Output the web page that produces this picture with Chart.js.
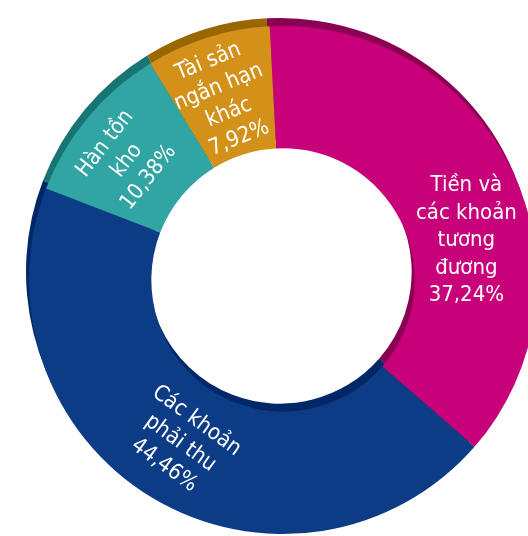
<!DOCTYPE html>
<html>
<head>
<meta charset="utf-8">
<script src="https://cdn.jsdelivr.net/npm/chart.js@4"></script>
<style>
  html, body { margin: 0; padding: 0; background: #fff; overflow: hidden; }
  #wrap { width: 528px; height: 536px; position: relative; }
</style>
</head>
<body>
<div id="wrap"><canvas id="chart" width="528" height="536"></canvas></div>
<script>
// data, clockwise from the top
const categories = [
  ['Tiền và', 'các khoản', 'tương', 'đương'],
  ['Các khoản', 'phải thu'],
  ['Hàn tồn', 'kho'],
  ['Tài sản', 'ngắn hạn', 'khác']
];
const shares = [37.24, 44.46, 10.38, 7.92];

// styling
const faceColors = ['#C8007A', '#0D3C87', '#31A5A3', '#D4911A'];
const rimColors = ['#8A0052', '#002868', '#187573', '#996600'];
const labelTilt = [0, 36, -52, -22];          // degrees
const labelNudge = [[10, 45], [-3, -2], [-8, 4], [-2, 4]];
const labelFont = "22px 'DejaVu Sans Condensed', 'DejaVu Sans', sans-serif";
const lineGap = 27.5;

function pct(v) {
  return v.toFixed(2).replace('.', ',') + '%';
}

// darker copy of the ring, pushed up a bit, for the 3D edge
const rimPlugin = {
  id: 'rim',
  beforeDatasetsDraw(chart) {
    const ctx = chart.ctx;
    const arcs = chart.getDatasetMeta(0).data;
    ctx.save();
    ctx.translate(-3, -8);
    arcs.forEach((a, i) => {
      ctx.beginPath();
      ctx.arc(a.x, a.y, a.outerRadius, a.startAngle, a.endAngle);
      ctx.arc(a.x, a.y, a.innerRadius, a.endAngle, a.startAngle, true);
      ctx.closePath();
      ctx.fillStyle = rimColors[i];
      ctx.fill();
    });
    ctx.restore();
  }
};

const labelPlugin = {
  id: 'sliceLabels',
  afterDatasetsDraw(chart) {
    const ctx = chart.ctx;
    const arcs = chart.getDatasetMeta(0).data;
    ctx.save();
    ctx.font = labelFont;
    ctx.fillStyle = '#ffffff';
    ctx.textAlign = 'center';
    ctx.textBaseline = 'middle';
    arcs.forEach((a, i) => {
      const mid = (a.startAngle + a.endAngle) / 2;
      const r = (a.innerRadius + a.outerRadius) / 2;
      const x = a.x + Math.cos(mid) * r + labelNudge[i][0];
      const y = a.y + Math.sin(mid) * r + labelNudge[i][1];
      const lines = categories[i].concat([pct(shares[i])]);
      ctx.save();
      ctx.translate(x, y);
      ctx.rotate(labelTilt[i] * Math.PI / 180);
      const top = -(lines.length - 1) * lineGap / 2;
      lines.forEach((t, k) => ctx.fillText(t, 0, top + k * lineGap));
      ctx.restore();
    });
    ctx.restore();
  }
};

new Chart(document.getElementById('chart'), {
  type: 'doughnut',
  data: {
    labels: categories.map(c => c.join(' ')),
    datasets: [{
      data: shares,
      backgroundColor: faceColors,
      borderWidth: 0,
      hoverOffset: 0,
      clip: false
    }]
  },
  options: {
    responsive: false,
    animation: false,
    rotation: -3,
    radius: 254,
    cutout: 127,
    layout: { padding: { left: 38, top: 24, right: 0, bottom: 0 } },
    plugins: {
      legend: { display: false },
      tooltip: { enabled: false }
    }
  },
  plugins: [rimPlugin, labelPlugin]
});
</script>
</body>
</html>
